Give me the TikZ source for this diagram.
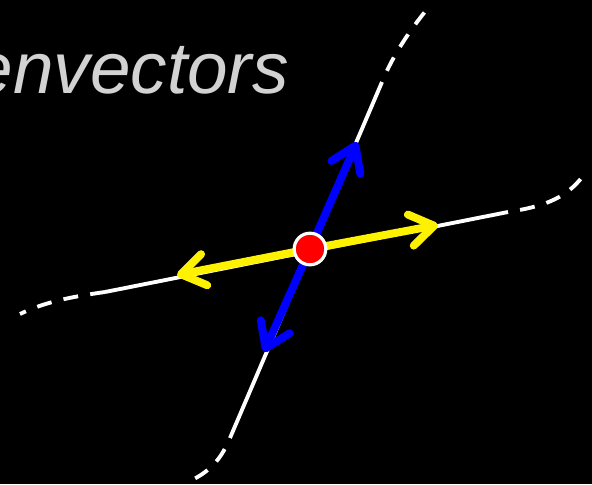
\documentclass[tikz,border=0pt]{standalone}
\usepackage{fontspec}
\setsansfont{Liberation Sans}
\usetikzlibrary{arrows.meta}
\definecolor{titlegray}{RGB}{210,210,210}

\begin{document}
\begin{tikzpicture}[x=0.02cm,y=-0.02cm,
  manifold/.style={white,line width=2.2pt},
  ext/.style={manifold,dash pattern=on 8.5pt off 7pt,dash phase=8.5pt},
  evec/.style={line width=4.5pt,-{Straight Barb[length=13.5pt,width=18pt,round]}}]
  \fill[black] (0,0) rectangle (592,484);
  \useasboundingbox (0,0) rectangle (592,484);
  \node[anchor=base east,inner sep=0pt,text=titlegray,
    font=\sffamily\itshape\fontsize{41.5}{50}\selectfont] (title) at (289,93) {envectors};
  % saddle point and tips of the eigenvectors
  \coordinate (fp) at (310,249);
  \coordinate (up) at (357,142);
  \coordinate (dn) at (264,352);
  \coordinate (rt) at (438,225);
  \coordinate (lf) at (177,275);
  % straight parts of the manifolds
  \coordinate (wt) at (382,82);
  \coordinate (wb) at (230,438);
  \coordinate (wr) at (508,212);
  \coordinate (wl) at (105,292);
  \draw[manifold] (wb) -- (wt);
  \draw[manifold] (wl) -- (wr);
  % dashed continuations
  \draw[ext] (wt) .. controls (393,55) and (410,30) .. (428,8);
  \draw[ext] (wb) .. controls (222,457) and (212,470) .. (192,480);
  \draw[ext] (wr) .. controls (540,207) and (565,200) .. (583,176);
  \draw[ext,dash phase=0pt] (wl) .. controls (70,297) and (45,302) .. (20,314);
  % eigenvectors
  \draw[evec,blue] (fp) -- (up);
  \draw[evec,blue] (fp) -- (dn);
  \draw[evec,yellow] (fp) -- (rt);
  \draw[evec,yellow] (fp) -- (lf);
  \node[circle,fill=red,draw=white,line width=1.8pt,minimum size=18pt,inner sep=0pt] (fix) at (fp) {};
\end{tikzpicture}
\end{document}
